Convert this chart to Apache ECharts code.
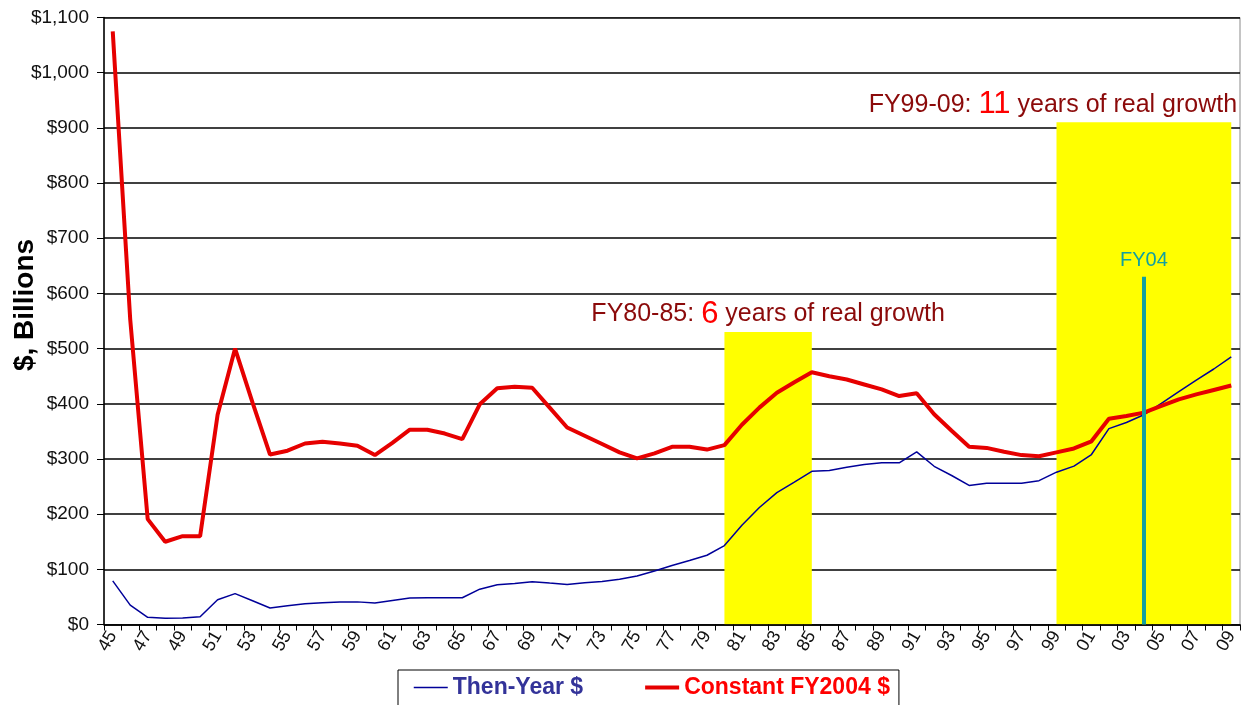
<!DOCTYPE html>
<html>
<head>
<meta charset="utf-8">
<script src="https://cdn.jsdelivr.net/npm/echarts@6/dist/echarts.min.js"></script>
<style>
  html, body { margin: 0; padding: 0; background: #fff; }
  #chart { width: 1241px; height: 705px; }
</style>
</head>
<body>
<div id="chart"></div>
<script>
// Fiscal years (FY1945 .. FY2009)
const years = ['45','46','47','48','49','50','51','52','53','54','55','56','57','58','59','60','61','62','63','64',
  '65','66','67','68','69','70','71','72','73','74','75','76','77','78','79','80','81','82','83','84',
  '85','86','87','88','89','90','91','92','93','94','95','96','97','98','99','00','01','02','03','04',
  '05','06','07','08','09'];

// Then-Year $, billions
const thenYearDollars = [79, 35, 13, 11.5, 12, 14, 45, 56, 43, 30, 34, 37.6, 39.4, 40.6, 41, 39, 43.6, 48, 48.5, 48.5,
  48.5, 64, 72, 74.5, 77.6, 75, 72.7, 75.8, 78, 82, 88, 97, 107, 116, 125.5, 143, 180, 212, 239, 258,
  277.6, 279, 285, 290, 293, 293, 312.7, 286.7, 270, 252, 255.8, 256, 255.8, 260.6, 276, 287, 308, 355, 366, 380,
  400.6, 422, 443, 463, 485];

// Constant FY2004 $, billions
const constantFY2004Dollars = [1075, 553, 191, 150, 160, 160, 380, 500, 402, 308, 315, 328, 331, 328, 324, 307, 329, 353, 353, 346,
  336, 399, 428, 431, 429, 393, 357, 342, 327, 312, 301, 310, 322, 322, 317, 325, 362, 393, 420, 439,
  457, 450, 444, 435, 426, 414, 419, 381, 351, 322, 320, 313, 307, 305, 312, 319, 332, 373, 378, 384,
  396, 408, 417, 425, 433];

// Y axis ticks
const yMin = 0, yMax = 1100, yStep = 100;

// Highlighted growth periods: [from, to, box top, label prefix, number, label suffix]
const growthPeriods = [
  ['80', '85', 530, 'FY80-85: ', '6', ' years of real growth'],
  ['99', '09', 910, 'FY99-09: ', '11', ' years of real growth']
];

// Current-year marker
const markerYear = '04', markerTop = 630, markerLabel = 'FY04';

const narrow = "'Liberation Sans Narrow','Arial Narrow','Liberation Sans',Arial,sans-serif";
const arial = "'Liberation Sans',Arial,sans-serif";
const labelOffsets = [[0, 0], [-91, 0]];

const chart = echarts.init(document.getElementById('chart'), null, { renderer: 'canvas' });

const option = {
  animation: false,
  backgroundColor: '#ffffff',
  grid: { left: 104, right: 1, top: 17.5, bottom: 80.5, containLabel: false, outerBoundsMode: 'none',
          show: true, borderColor: '#8a8a8a', borderWidth: 1, backgroundColor: 'transparent' },
  legend: {
    left: 398, top: 670,
    padding: [6, 9, 10, 15],
    borderColor: '#000', borderWidth: 1,
    itemGap: 60, itemWidth: 34, itemHeight: 14,
    itemStyle: { opacity: 0 },
    textStyle: { fontFamily: arial, fontWeight: 'bold', fontSize: 23 },
    data: [
      { name: 'Then-Year $', textStyle: { color: '#333399' }, lineStyle: { width: 1.5 } },
      { name: 'Constant FY2004 $', textStyle: { color: '#ff0000' }, lineStyle: { width: 4 } }
    ]
  },
  xAxis: {
    type: 'category', data: years, boundaryGap: true, z: 1,
    axisLine: { lineStyle: { color: '#000', width: 1.5 } },
    axisTick: { show: true, interval: 0, length: 6, lineStyle: { color: '#000' } },
    axisLabel: { interval: 1, rotate: 60, fontSize: 18, fontFamily: narrow, color: '#111', margin: 8 },
    splitLine: { show: false }
  },
  yAxis: {
    type: 'value', min: yMin, max: yMax, interval: yStep, z: 1,
    name: '$, Billions', nameLocation: 'middle', nameRotate: 90, nameGap: 65, nameMoveOverlap: false,
    nameTextStyle: { fontFamily: arial, fontWeight: 'bold', fontSize: 28, color: '#000', padding: [0, 0, 0, 32] },
    axisLine: { show: true, lineStyle: { color: '#000', width: 1.5 } },
    axisTick: { show: true, length: 7, lineStyle: { color: '#000' } },
    axisLabel: { fontSize: 19, fontFamily: narrow, color: '#111', margin: 15,
      formatter: v => '$' + v.toLocaleString('en-US') },
    splitLine: { show: true, lineStyle: { color: '#000', width: 1.5 } }
  },
  series: [
    {
      name: 'periods', type: 'line', z: 0, data: [], silent: true,
      markArea: {
        silent: true,
        itemStyle: { color: '#ffff00', opacity: 1 },
        data: growthPeriods.map((p, i) => [
          { xAxis: p[0], yAxis: yMin,
            label: { show: true, position: 'top', distance: 2, offset: labelOffsets[i],
              formatter: '{a|' + p[3] + '}{b|' + p[4] + '}{a|' + p[5] + '}',
              rich: {
                a: { fontFamily: narrow, fontSize: 25, color: '#8b0a0a' },
                b: { fontFamily: narrow, fontSize: 31, color: '#ff0000' }
              } } },
          { xAxis: p[1], yAxis: p[2] }
        ])
      }
    },
    {
      name: 'Then-Year $', type: 'line', z: 2, data: thenYearDollars,
      symbol: 'none', showSymbol: false,
      lineStyle: { color: '#000099', width: 1.5 }, itemStyle: { color: '#000099' }
    },
    {
      name: 'Constant FY2004 $', type: 'line', z: 3, data: constantFY2004Dollars,
      symbol: 'none', showSymbol: false,
      lineStyle: { color: '#e60000', width: 4 }, itemStyle: { color: '#e60000' }
    },
    {
      name: 'marker', type: 'line', z: 5, data: [], silent: true,
      markLine: {
        silent: true, symbol: ['none', 'none'],
        lineStyle: { color: '#12a0a0', width: 4, type: 'solid' },
        label: { show: true, position: 'end', formatter: markerLabel, distance: 6,
                 fontFamily: narrow, fontSize: 20, color: '#12a0a0' },
        data: [[ { coord: [markerYear, yMin] }, { coord: [markerYear, markerTop] } ]]
      }
    }
  ]
};

chart.setOption(option);
</script>
</body>
</html>
